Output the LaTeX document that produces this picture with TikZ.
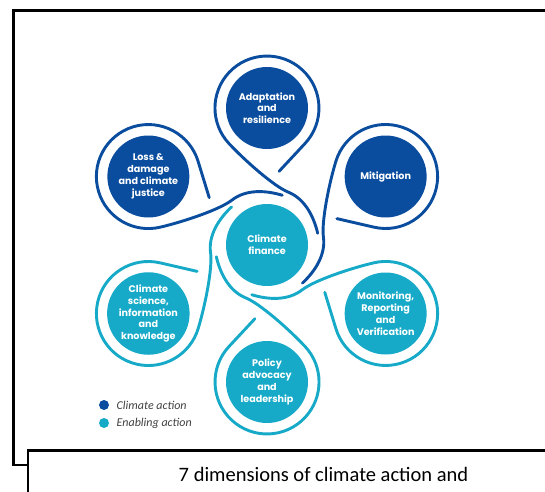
\documentclass[tikz,border=0pt]{standalone}
\usepackage{fontspec}
\setmainfont{Carlito}
\newfontfamily\dimfont{Poppins}
\usetikzlibrary{positioning,calc}
\definecolor{actionblue}{RGB}{10,77,158}
\definecolor{enablecyan}{RGB}{22,170,200}
\definecolor{legendgrey}{RGB}{64,64,64}
\tikzset{
  dimension/.style={circle, minimum size=82pt, inner sep=0pt, text=white, align=center,
    font=\dimfont\bfseries\fontsize{9.6}{11.8}\selectfont},
  ring/.style={line width=2.9pt, line cap=round, preaction={draw=white, line width=7.5pt}},
  legenddot/.style={circle, minimum size=10pt, inner sep=0pt},
  legendtext/.style={font=\itshape\fontsize{12}{14}\selectfont, text=legendgrey},
}

\begin{document}
\begin{tikzpicture}[x=1pt,y=1pt]
\useasboundingbox (0,0) rectangle (545,491);
\clip (0,0) rectangle (545,491);

% --- frame ---
\draw[line width=2.5pt] (13.5,26) rectangle (600,480.5);
\draw[line width=2.5pt, fill=white] (28,40.5) rectangle (600,-20);
\node[font=\fontsize{20.5}{24}\selectfont, anchor=base] (caption) at (323.5,10) {7 dimensions of climate action and};

% --- loops ---
\coordinate (O) at (267,246);
\foreach \a/\c in {90/actionblue, 30/actionblue, -30/enablecyan, -90/enablecyan, 210/enablecyan, 150/actionblue}
  \draw[ring, \c, shift={(O)}, rotate=\a]
    (73.7,-12.1) -- (101.5,-38) arc[start angle=-133, end angle=133, radius=52pt]
    .. controls (83.2,20.9) and (58.4,-7.5) .. (52.8,-21.4)
    .. controls (46.2,-37.7) and (28.8,-46.7) .. (11.7,-50.7);

% --- dimensions ---
\node[dimension, fill=enablecyan] (finance) at (O) {Climate\\finance};
\foreach \a/\c/\n/\t in {90/actionblue/adapt/{Adaptation\\and\\resilience},
    30/actionblue/mitig/{Mitigation},
    -30/enablecyan/monit/{Monitoring,\\Reporting\\and\\Verification},
    -90/enablecyan/policy/{Policy\\advocacy\\and\\leadership},
    210/enablecyan/science/{Climate\\science,\\information\\and\\knowledge},
    150/actionblue/loss/{Loss \&\\damage\\and climate\\justice}}
  \node[dimension, fill=\c] (\n) at ($(O)+(\a:137)$) {\t};

% --- legend ---
\node[legenddot, fill=actionblue] (actiondot) at (104,86) {};
\node[legendtext, right=4pt of actiondot] (actionlabel) {Climate action};
\node[legenddot, fill=enablecyan] (enabledot) at (104,68) {};
\node[legendtext, right=4pt of enabledot] (enablelabel) {Enabling action};

\end{tikzpicture}
\end{document}
